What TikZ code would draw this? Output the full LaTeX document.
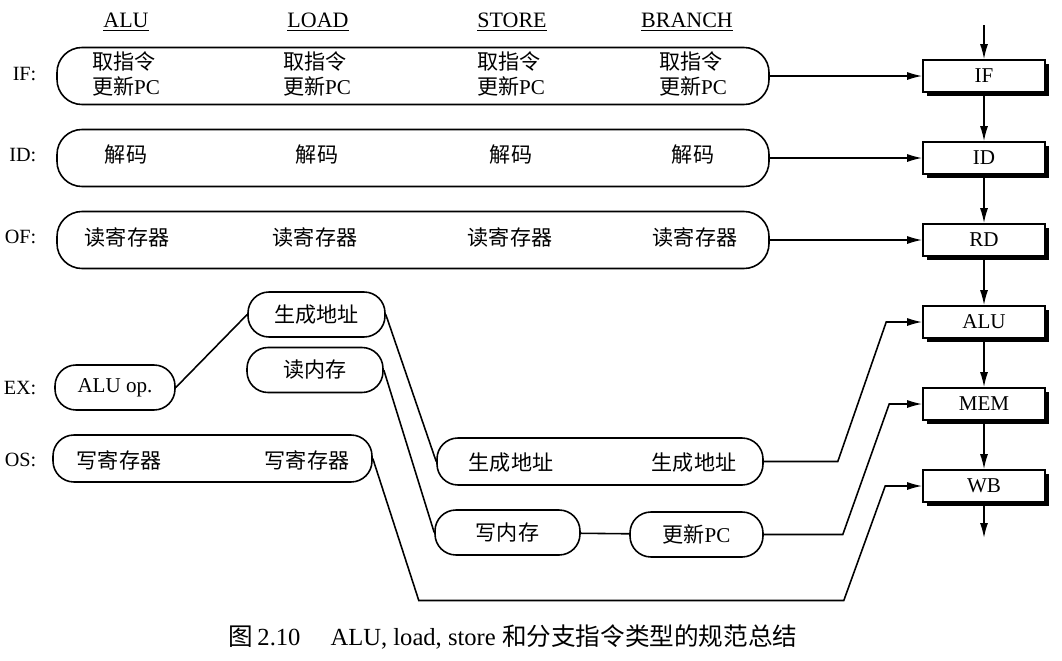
\documentclass[tikz,border=0pt]{standalone}
\usepackage{fontspec}
\setmainfont{Liberation Serif}
\newfontfamily\cjk{Noto Sans CJK SC}
\usepackage{tikz}
\usetikzlibrary{shapes,arrows,positioning,calc,shadows,arrows.meta}

\newcommand{\zh}[1]{{\cjk #1}}

\begin{document}
\begin{tikzpicture}[auto, node distance=1.64cm, >={Latex[length=3mm,width=1.6mm]}, line width=0.9pt,
    every node/.style={align=center, font=\fontsize{12}{14.5}\selectfont},
    stage/.style={draw, fill=white, rectangle, minimum width=2.44cm, minimum height=0.64cm,
        drop shadow={shadow xshift=2.4pt, shadow yshift=-2.4pt, opacity=1, fill=black}},
    bar/.style={draw, rectangle, rounded corners=0.5cm, minimum width=14.24cm, minimum height=1.14cm},
    pill/.style={draw, rectangle, rounded corners=0.42cm, minimum height=0.9cm},
    row/.style={anchor=east, font=\fontsize{11.5}{13}\selectfont},
    head/.style={font=\fontsize{12.5}{15}\selectfont}]
    \useasboundingbox (0,0) rectangle (21.24,-13.22);

    % pipeline stages
    \node [stage] (sif) at (19.68,-1.52) {IF};
    \node [stage, below of=sif] (sid) {ID};
    \node [stage, below of=sid] (srd) {RD};
    \node [stage, below of=srd] (salu) {ALU};
    \node [stage, below of=salu] (smem) {MEM};
    \node [stage, below of=smem] (swb) {WB};
    \coordinate (in) at (19.68,-0.5);
    \coordinate (out) at (19.68,-10.76);

    \node [head] (halu) at (2.52,-0.44) {\underline{ALU}};
    \node [head] (hld) at (6.36,-0.44) {\underline{LOAD}};
    \node [head] (hst) at (10.24,-0.44) {\underline{STORE}};
    \node [head] (hbr) at (13.74,-0.44) {\underline{BRANCH}};

    \node [row] (rif) at (0.86,-1.48) {IF:};
    \node [row] (rid) at (0.86,-3.10) {ID:};
    \node [row] (rof) at (0.86,-4.74) {OF:};
    \node [row] (rex) at (0.86,-7.76) {EX:};
    \node [row] (ros) at (0.86,-9.20) {OS:};

    \node [bar] (ifbar) at (8.26,-1.52) {};
    \node [bar] (idbar) at (8.26,-3.16) {};
    \node [bar] (ofbar) at (8.26,-4.80) {};

    \node [align=left] (ifalu) at (2.52,-1.48) {\zh{取指令}\\\zh{更新}PC};
    \node [align=left] (ifld) at (6.34,-1.48) {\zh{取指令}\\\zh{更新}PC};
    \node [align=left] (ifst) at (10.22,-1.48) {\zh{取指令}\\\zh{更新}PC};
    \node [align=left] (ifbr) at (13.86,-1.48) {\zh{取指令}\\\zh{更新}PC};
    \node (idalu) at (2.52,-3.10) {\zh{解码}};
    \node (idld) at (6.34,-3.10) {\zh{解码}};
    \node (idst) at (10.22,-3.10) {\zh{解码}};
    \node (idbr) at (13.86,-3.10) {\zh{解码}};
    \node (ofalu) at (2.54,-4.74) {\zh{读寄存器}};
    \node (ofld) at (6.30,-4.74) {\zh{读寄存器}};
    \node (ofst) at (10.20,-4.74) {\zh{读寄存器}};
    \node (ofbr) at (13.90,-4.74) {\zh{读寄存器}};

    \node [pill, minimum width=2.4cm] (aluop) at (2.30,-7.75) {ALU op.};
    \node [pill, minimum width=2.74cm] (ga1) at (6.33,-6.29) {\zh{生成地址}};
    \node [pill, minimum width=2.72cm] (rdm) at (6.30,-7.40) {\zh{读内存}};
    \node [pill, minimum width=6.38cm, minimum height=0.94cm] (osbar) at (4.25,-9.17) {};
    \node (osalu) at (2.38,-9.20) {\zh{写寄存器}};
    \node (osld) at (6.14,-9.20) {\zh{写寄存器}};
    \node [pill, minimum width=6.52cm, minimum height=0.94cm] (ga2) at (12.00,-9.23) {};
    \node (gast) at (10.22,-9.26) {\zh{生成地址}};
    \node (gabr) at (13.88,-9.26) {\zh{生成地址}};
    \node [pill, minimum width=2.9cm] (wrm) at (10.15,-10.65) {\zh{写内存}};
    \node [pill, minimum width=2.66cm] (upc) at (13.93,-10.69) {\zh{更新}PC};

    \node [font=\fontsize{14}{16}\selectfont] (cap) at (10.26,-12.74)
        {\zh{图}\,2.10\hspace{0.6cm}ALU, load, store \zh{和分支指令类型的规范总结}};

    \draw [->] (in) -- (sif);
    \draw [->] (sif) -- (sid);
    \draw [->] (sid) -- (srd);
    \draw [->] (srd) -- (salu);
    \draw [->] (salu) -- (smem);
    \draw [->] (smem) -- (swb);
    \draw [->] (swb) -- (out);

    \draw [->] (ifbar) -- (sif);
    \draw [->] (idbar) -- (sid);
    \draw [->] (ofbar) -- (srd);

    \draw (aluop.east) -- (ga1.west);
    \draw (ga1.east) -- (ga2.west);
    \draw (rdm.east) -- (wrm.west);
    \draw (wrm) -- (upc);
    \draw [->] (ga2.east) -- ++(1.48,0) -- ([xshift=-0.72cm]salu.west) -- (salu.west);
    \draw [->] (upc.east) -- ++(1.58,0) -- ([xshift=-0.66cm]smem.west) -- (smem.west);
    \draw [->] (osbar.east) -- ++(0.92,-2.84) -- ++(8.5,0) -- ([xshift=-0.74cm]swb.west) -- (swb.west);
\end{tikzpicture}
\end{document}
